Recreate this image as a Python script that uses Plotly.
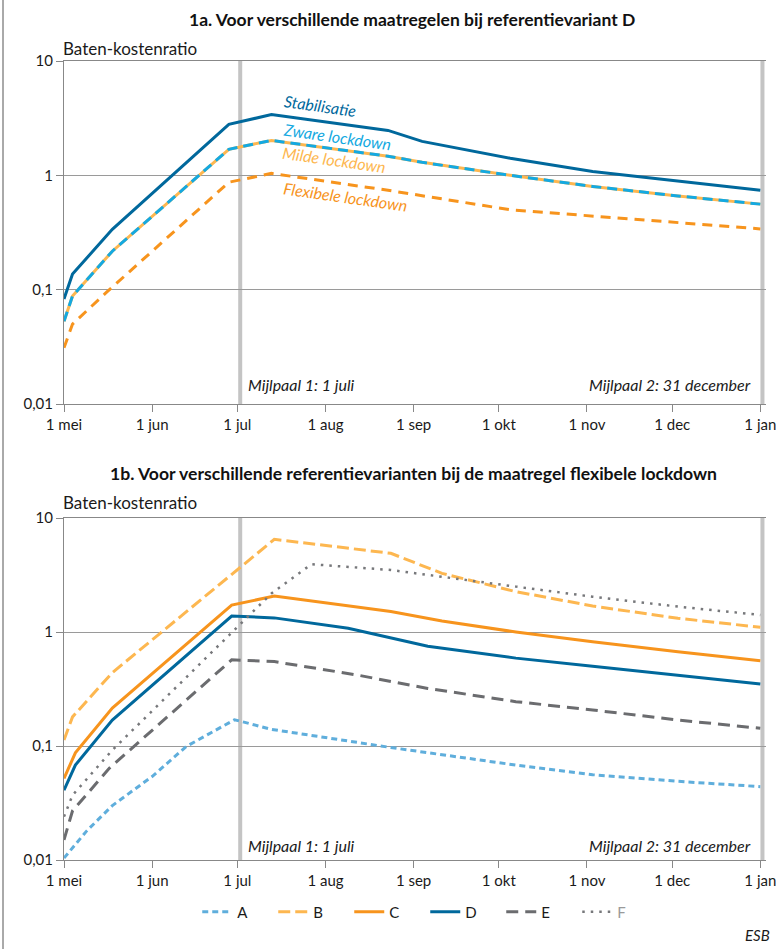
import plotly.graph_objects as go

# ---------------- data ----------------
month_ticks = ['2020-05-01', '2020-06-01', '2020-07-01', '2020-08-01', '2020-09-01',
               '2020-10-01', '2020-11-01', '2020-12-01', '2021-01-01']
month_labels = ['1 mei', '1 jun', '1 jul', '1 aug', '1 sep', '1 okt', '1 nov', '1 dec', '1 jan']
y_ticks = [0.01, 0.1, 1, 10]
y_labels = ['0,01', '0,1', '1', '10']

# panel 1a
dates_1a = ['2020-05-01', '2020-05-04', '2020-05-18', '2020-06-28', '2020-07-13', '2020-08-23',
            '2020-09-04', '2020-10-05', '2020-11-03', '2020-12-03', '2021-01-01']
stabilisatie = [0.083, 0.137, 0.337, 2.79, 3.4, 2.47, 1.98, 1.41, 1.08, 0.89, 0.74]
zware = [0.053, 0.088, 0.217, 1.69, 2.02, 1.47, 1.3, 1.0, 0.80, 0.66, 0.56]
milde = [0.053, 0.088, 0.217, 1.69, 2.02, 1.47, 1.3, 1.0, 0.80, 0.66, 0.56]
dates_flex = ['2020-05-01', '2020-05-04', '2020-05-16', '2020-06-28', '2020-07-13', '2020-08-23',
              '2020-10-05', '2020-11-03', '2020-12-03', '2021-01-01']
flexibele = [0.031, 0.05, 0.095, 0.87, 1.04, 0.74, 0.50, 0.44, 0.39, 0.34]

# panel 1b
dates_A = ['2020-05-01', '2020-05-09', '2020-05-18', '2020-06-01', '2020-06-13', '2020-06-30',
           '2020-07-13', '2020-08-24', '2020-10-07', '2020-11-03', '2020-12-03', '2021-01-01']
var_A = [0.0104, 0.018, 0.030, 0.054, 0.099, 0.17, 0.14, 0.097, 0.068, 0.056, 0.049, 0.044]
dates_B = ['2020-05-01', '2020-05-04', '2020-05-18', '2020-07-14', '2020-08-24', '2020-09-11',
           '2020-10-07', '2020-11-03', '2020-12-03', '2021-01-01']
var_B = [0.113, 0.18, 0.44, 6.5, 4.9, 3.27, 2.26, 1.69, 1.32, 1.10]
dates_C = ['2020-05-01', '2020-05-05', '2020-05-18', '2020-06-29', '2020-07-14', '2020-08-24',
           '2020-09-11', '2020-10-07', '2020-11-03', '2020-12-03', '2021-01-01']
var_C = [0.052, 0.087, 0.215, 1.72, 2.07, 1.51, 1.25, 1.0, 0.82, 0.67, 0.56]
dates_D = ['2020-05-01', '2020-05-05', '2020-05-18', '2020-06-29', '2020-07-14', '2020-08-09',
           '2020-09-06', '2020-10-07', '2020-11-03', '2020-12-03', '2021-01-01']
var_D = [0.041, 0.068, 0.169, 1.38, 1.33, 1.08, 0.75, 0.59, 0.50, 0.42, 0.35]
dates_E = ['2020-05-01', '2020-05-04', '2020-05-17', '2020-06-29', '2020-07-14', '2020-08-12',
           '2020-09-06', '2020-10-07', '2020-11-03', '2020-12-03', '2021-01-01']
var_E = [0.015, 0.027, 0.064, 0.57, 0.55, 0.42, 0.32, 0.245, 0.207, 0.169, 0.143]
dates_F = ['2020-05-01', '2020-05-04', '2020-05-18', '2020-07-01', '2020-07-13', '2020-07-27',
           '2020-08-24', '2020-10-07', '2020-11-03', '2020-12-03', '2021-01-01']
var_F = [0.024, 0.037, 0.092, 1.11, 2.18, 3.93, 3.5, 2.5, 2.04, 1.67, 1.41]

mijlpaal_dates = ['2020-07-02', '2021-01-01 18:00']

# ---------------- styles ----------------
DARKBLUE = '#00689C'
CYAN = '#14A9E1'
LIGHTORANGE = '#FDB750'
ORANGE = '#F7941D'
LIGHTBLUE = '#5FAEDC'
DARKGRAY = '#6B6C6F'
GRAY = '#77787B'
FONT = 'Lato'

W, H = 776, 949


def px(x):
    return x / W


def py(y):
    return 1 - y / H


fig = go.Figure()

# panel 1a traces
fig.add_trace(go.Scatter(x=dates_1a, y=milde, mode='lines', name='Milde lockdown',
                         line=dict(color=LIGHTORANGE, width=3), showlegend=False,
                         xaxis='x', yaxis='y'))
fig.add_trace(go.Scatter(x=dates_1a, y=zware, mode='lines', name='Zware lockdown',
                         line=dict(color=CYAN, width=3, dash='10px,6px'), showlegend=False,
                         xaxis='x', yaxis='y'))
fig.add_trace(go.Scatter(x=dates_flex, y=flexibele, mode='lines', name='Flexibele lockdown',
                         line=dict(color=ORANGE, width=3, dash='10px,7px'), showlegend=False,
                         xaxis='x', yaxis='y'))
fig.add_trace(go.Scatter(x=dates_1a, y=stabilisatie, mode='lines', name='Stabilisatie',
                         line=dict(color=DARKBLUE, width=3), showlegend=False,
                         xaxis='x', yaxis='y'))

# panel 1b traces
fig.add_trace(go.Scatter(x=dates_A, y=var_A, mode='lines', name='A',
                         line=dict(color=LIGHTBLUE, width=3, dash='6px,4px'),
                         xaxis='x2', yaxis='y2'))
fig.add_trace(go.Scatter(x=dates_B, y=var_B, mode='lines', name='B',
                         line=dict(color=LIGHTORANGE, width=3, dash='12px,5px'),
                         xaxis='x2', yaxis='y2'))
fig.add_trace(go.Scatter(x=dates_C, y=var_C, mode='lines', name='C',
                         line=dict(color=ORANGE, width=3),
                         xaxis='x2', yaxis='y2'))
fig.add_trace(go.Scatter(x=dates_D, y=var_D, mode='lines', name='D',
                         line=dict(color=DARKBLUE, width=3),
                         xaxis='x2', yaxis='y2'))
fig.add_trace(go.Scatter(x=dates_E, y=var_E, mode='lines', name='E',
                         line=dict(color=DARKGRAY, width=3, dash='12px,7px'),
                         xaxis='x2', yaxis='y2'))
fig.add_trace(go.Scatter(x=dates_F, y=var_F, mode='lines', name="<span style='color:#9a9a9a'>F</span>",
                         line=dict(color=GRAY, width=2.5, dash='2.5px,6px'),
                         xaxis='x2', yaxis='y2'))

xdom = [px(64), px(766)]
xcommon = dict(type='date', range=['2020-05-01', '2021-01-03'], tickmode='array',
               tickvals=month_ticks, ticktext=month_labels, ticks='outside', ticklen=7,
               tickcolor='#888888', showline=True, linecolor='#888888', linewidth=1,
               mirror=True, showgrid=False, zeroline=False, ticklabeloverflow='allow',
               automargin=False,
               tickfont=dict(family=FONT, size=15, color='#1a1a1a'), domain=xdom)
ycommon = dict(type='log', range=[-2, 1], tickmode='array', tickvals=y_ticks, ticktext=y_labels,
               ticks='outside', ticklen=7, tickcolor='#888888', showline=True,
               linecolor='#888888', linewidth=1, showgrid=True, gridcolor='#9a9a9a',
               gridwidth=1, zeroline=False, automargin=False,
               tickfont=dict(family=FONT, size=15, color='#1a1a1a'))

fig.update_layout(
    width=W, height=H, margin=dict(l=0, r=0, t=0, b=0, autoexpand=False),
    paper_bgcolor='white', plot_bgcolor='white',
    font=dict(family=FONT, size=15, color='#1a1a1a'),
    xaxis=dict(anchor='y', **xcommon),
    yaxis=dict(anchor='x', domain=[py(404), py(61)], **ycommon),
    xaxis2=dict(anchor='y2', **xcommon),
    yaxis2=dict(anchor='x2', domain=[py(860), py(518)], **ycommon),
    legend=dict(orientation='h', x=0.548, xanchor='center', y=py(912), yanchor='middle',
                font=dict(family=FONT, size=15, color='#1a1a1a'),
                entrywidth=31, entrywidthmode='pixels', itemwidth=30,
                bgcolor='rgba(0,0,0,0)'),
)

# milestone bars
shapes = []
for xr, yr in (('x', 'y'), ('x2', 'y2')):
    for d in mijlpaal_dates:
        shapes.append(dict(type='line', xref=xr, yref=yr + ' domain', x0=d, x1=d, y0=0, y1=1,
                           line=dict(color='#C4C4C4', width=4), layer='below'))
# left frame line
shapes.append(dict(type='line', xref='paper', yref='paper', x0=px(3), x1=px(3), y0=0, y1=1,
                   line=dict(color='#555555', width=1)))
fig.update_layout(shapes=shapes)

ann = []
ann.append(dict(text='<b>1a. Voor verschillende maatregelen bij referentievariant D</b>',
                x=px(412), y=py(20), xref='paper', yref='paper', showarrow=False,
                font=dict(family=FONT, size=17.5, color='#111111'), xanchor='center', yanchor='middle'))
ann.append(dict(text='<b>1b. Voor verschillende referentievarianten bij de maatregel flexibele lockdown</b>',
                x=px(413), y=py(473), xref='paper', yref='paper', showarrow=False,
                font=dict(family=FONT, size=17.6, color='#111111'), xanchor='center', yanchor='middle'))
for yy in (48, 502):
    ann.append(dict(text='Baten-kostenratio', x=px(61), y=py(yy), xref='paper', yref='paper',
                    showarrow=False, font=dict(family=FONT, size=17, color='#1a1a1a'),
                    xanchor='left', yanchor='middle'))
for yy in (385, 845):
    ann.append(dict(text='<i>Mijlpaal 1: 1 juli</i>', x=px(246), y=py(yy), xref='paper', yref='paper',
                    showarrow=False, font=dict(family=FONT, size=16, color='#1a1a1a'),
                    xanchor='left', yanchor='middle'))
    ann.append(dict(text='<i>Mijlpaal 2: 31 december</i>', x=px(753), y=py(yy), xref='paper', yref='paper',
                    showarrow=False, font=dict(family=FONT, size=16, color='#1a1a1a'),
                    xanchor='right', yanchor='middle'))
labels_1a = [('Stabilisatie', DARKBLUE, 320, 106),
             ('Zware lockdown', CYAN, 337, 136),
             ('Milde lockdown', LIGHTORANGE, 334, 160),
             ('Flexibele lockdown', ORANGE, 345, 196)]
for t, c, xx, yy in labels_1a:
    ann.append(dict(text='<i>' + t + '</i>', x=px(xx), y=py(yy), xref='paper', yref='paper',
                    showarrow=False, textangle=8, font=dict(family=FONT, size=16, color=c),
                    xanchor='center', yanchor='middle'))
ann.append(dict(text='<i>ESB</i>', x=px(772), y=py(935), xref='paper', yref='paper', showarrow=False,
                font=dict(family=FONT, size=15, color='#1a1a1a'), xanchor='right', yanchor='middle'))
fig.update_layout(annotations=ann)

fig.write_html('out.html', config={'displayModeBar': False},
               post_script=("document.body.style.margin='0';"
                            "document.body.style.overflow='hidden';"))
